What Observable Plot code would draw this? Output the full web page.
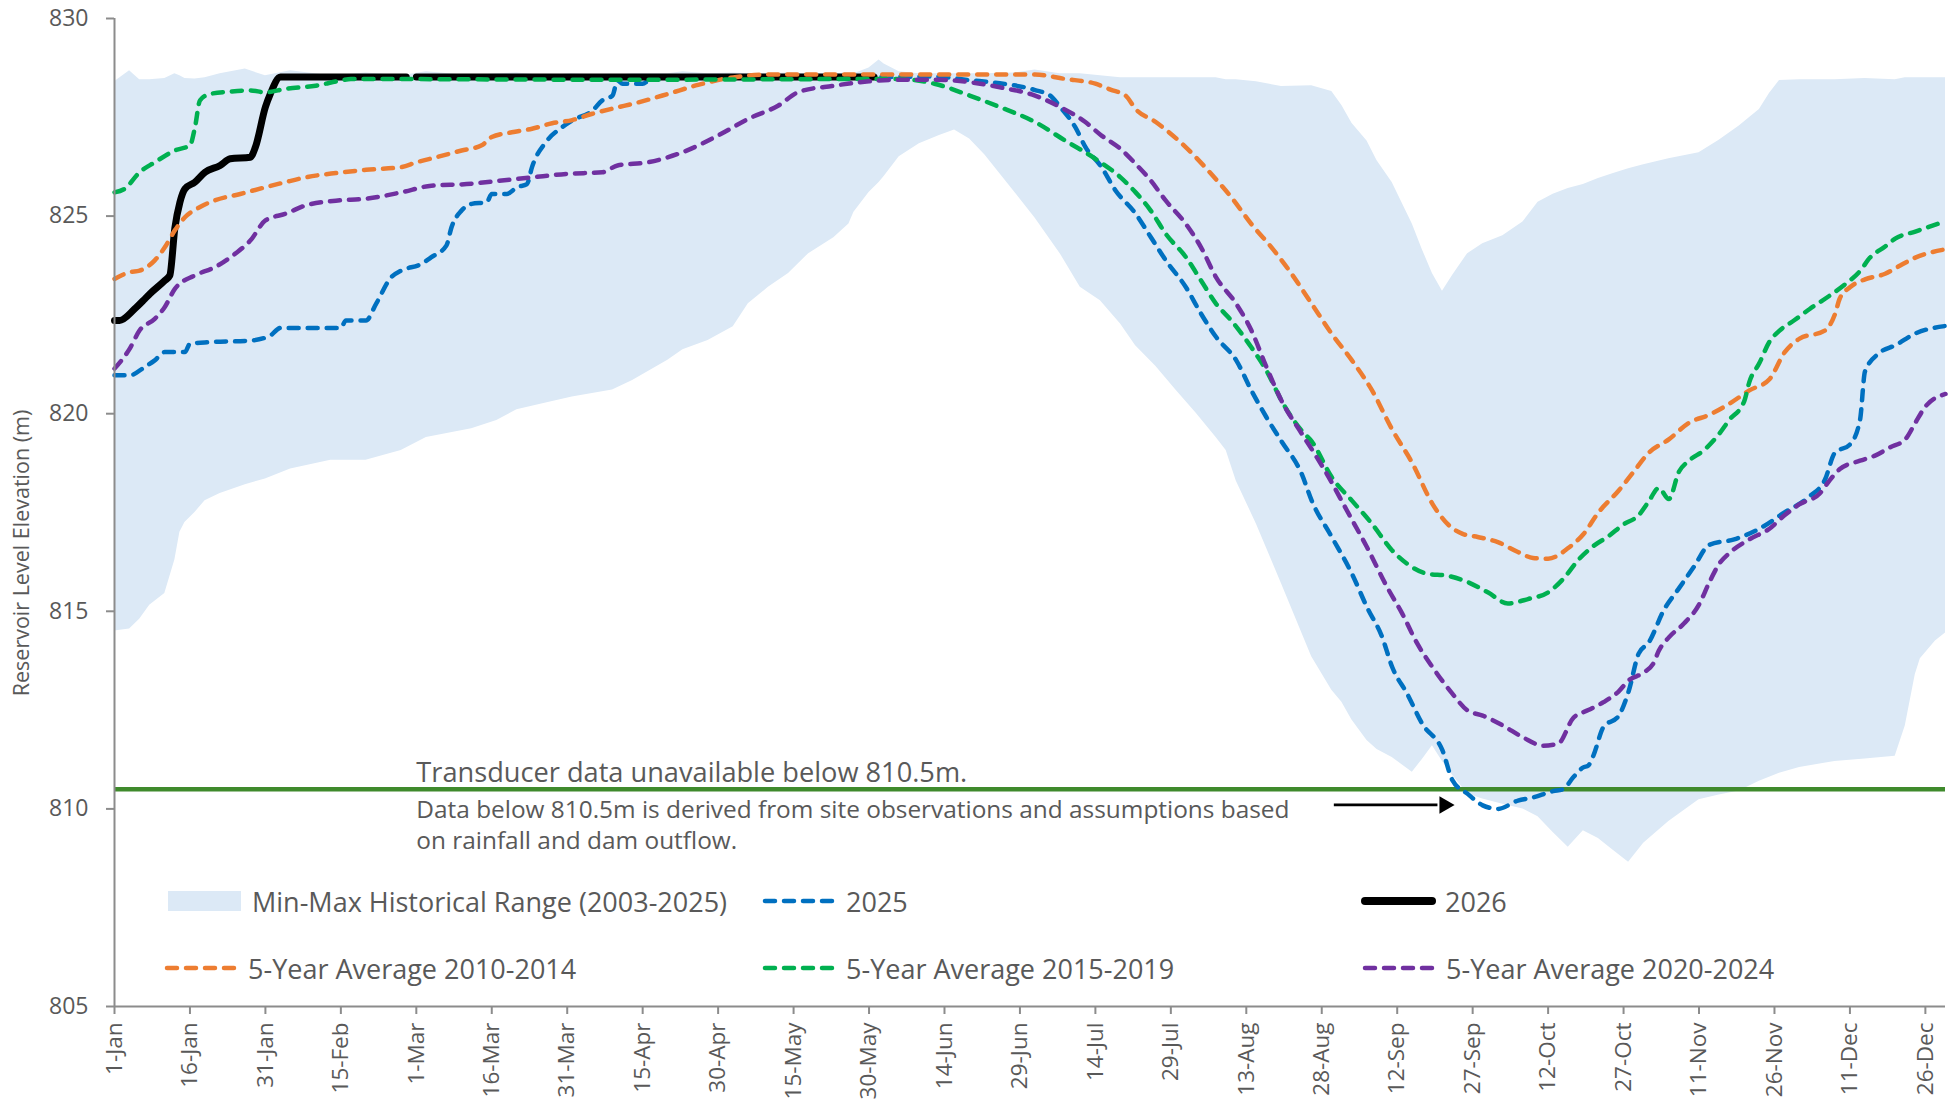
<!DOCTYPE html>
<html>
<head>
<meta charset="utf-8">
<script src="https://cdn.jsdelivr.net/npm/d3@7"></script>
<script src="https://cdn.jsdelivr.net/npm/@observablehq/plot@0.6"></script>
<style>
  html, body { margin: 0; padding: 0; background: #ffffff; }
  #wrap { position: relative; width: 1956px; height: 1106px; font-family: "Open Sans", "Liberation Sans", sans-serif; color: #595959; }
  #ylabel { position: absolute; left: 20px; top: 553px; transform: translate(-50%, -50%) rotate(-90deg); white-space: nowrap; font-size: 21.5px; }
  .leg { position: absolute; display: flex; align-items: center; font-size: 27px; white-space: nowrap; }
  .leg svg { display: block; margin-right: 9px; }
</style>
</head>
<body>
<div id="wrap">
  <div id="chart"></div>
  <div id="ylabel">Reservoir Level Elevation (m)</div>
</div>
<script>
// ---------- tick labels ----------
const tickDays = [0, 15, 30, 45, 60, 75, 90, 105, 120, 135, 150, 165, 180, 195, 210, 225, 240, 255, 270, 285, 300, 315, 330, 345, 360];
const tickLabels = ["1-Jan", "16-Jan", "31-Jan", "15-Feb", "1-Mar", "16-Mar", "31-Mar", "15-Apr", "30-Apr", "15-May", "30-May", "14-Jun", "29-Jun", "14-Jul", "29-Jul", "13-Aug", "28-Aug", "12-Sep", "27-Sep", "12-Oct", "27-Oct", "11-Nov", "26-Nov", "11-Dec", "26-Dec"];
const yTicks = [805, 810, 815, 820, 825, 830];

// ---------- Min-Max historical range (2003-2025) ----------
const bandDays = [0, 3, 5, 7, 10, 12, 13, 14, 16, 18, 21, 26, 30, 35, 43, 50, 57, 62, 71, 76, 80, 86, 91, 99, 103, 110, 113, 118, 123, 126, 130, 134, 138, 143, 146, 147, 150, 152, 153, 156, 160, 164, 167, 170, 173, 179, 183, 188, 192, 196, 200, 203, 207, 211, 215, 219, 221, 223, 227, 232, 238, 242, 244, 246, 249, 251, 254, 258, 260, 262, 264, 266, 269, 272, 276, 280, 283, 286, 289, 292, 295, 298, 301, 304, 309, 315, 319, 323, 327, 329, 331, 335, 342, 348, 354, 356, 358, 359, 362, 364];
const bandMax = [828.4, 828.68, 828.45, 828.45, 828.48, 828.6, 828.55, 828.48, 828.47, 828.5, 828.6, 828.72, 828.55, 828.68, 828.55, 828.62, 828.55, 828.65, 828.55, 828.6, 828.62, 828.55, 828.6, 828.55, 828.6, 828.6, 828.65, 828.6, 828.62, 828.6, 828.6, 828.62, 828.6, 828.6, 828.62, 828.6, 828.75, 828.95, 828.85, 828.65, 828.6, 828.6, 828.6, 828.6, 828.6, 828.62, 828.7, 828.6, 828.6, 828.55, 828.5, 828.5, 828.5, 828.5, 828.5, 828.5, 828.45, 828.45, 828.4, 828.28, 828.3, 828.15, 827.8, 827.35, 826.9, 826.4, 825.85, 824.8, 824.15, 823.55, 823.1, 823.5, 824.05, 824.3, 824.5, 824.85, 825.35, 825.55, 825.7, 825.8, 825.95, 826.08, 826.2, 826.3, 826.45, 826.6, 826.92, 827.28, 827.7, 828.1, 828.43, 828.45, 828.45, 828.48, 828.45, 828.5, 828.5, 828.5, 828.5, 828.5];
const bandMin = [814.5, 814.55, 814.8, 815.15, 815.45, 816.3, 817.0, 817.25, 817.5, 817.8, 817.98, 818.2, 818.35, 818.6, 818.82, 818.82, 819.07, 819.4, 819.62, 819.83, 820.1, 820.28, 820.42, 820.6, 820.84, 821.35, 821.62, 821.85, 822.2, 822.78, 823.2, 823.55, 824.05, 824.45, 824.8, 825.1, 825.6, 825.85, 826.0, 826.5, 826.83, 827.04, 827.18, 826.95, 826.55, 825.6, 824.95, 824.05, 823.2, 822.86, 822.27, 821.72, 821.2, 820.6, 820.02, 819.4, 819.07, 818.3, 817.21, 815.7, 813.85, 813.0, 812.7, 812.25, 811.73, 811.5, 811.3, 810.93, 811.25, 811.6, 811.2, 810.85, 810.38, 810.25, 810.12, 810.0, 809.8, 809.4, 809.03, 809.45, 809.25, 808.95, 808.65, 809.13, 809.68, 810.23, 810.35, 810.45, 810.7, 810.8, 810.9, 811.05, 811.2, 811.26, 811.33, 812.1, 813.4, 813.8, 814.25, 814.45];

// ---------- 2025 ----------
const days2025 = [0, 3, 6, 8, 10, 14, 15, 19, 27, 31, 33, 45, 46, 50, 52, 55, 57, 61, 63, 66, 67, 69, 71, 74, 75, 78, 80, 82, 83, 86, 89, 91, 95, 97, 99, 100, 101, 105, 107, 120, 140, 163, 170, 176, 183, 186, 188, 191, 193, 196, 199, 203, 206, 209, 213, 216, 219, 223, 226, 229, 232, 236, 238, 242, 246, 249, 252, 254, 257, 260, 264, 266, 269, 272, 275, 279, 282, 286, 288, 290, 292, 293, 294, 296, 299, 301, 303, 305, 308, 311, 314, 317, 322, 327, 332, 337, 340, 342, 345, 347, 348, 351, 354, 358, 364];
const level2025 = [820.97, 820.97, 821.18, 821.35, 821.56, 821.56, 821.77, 821.81, 821.85, 821.98, 822.17, 822.17, 822.36, 822.36, 822.78, 823.45, 823.62, 823.79, 823.96, 824.26, 824.72, 825.14, 825.31, 825.35, 825.56, 825.56, 825.73, 825.81, 826.24, 826.91, 827.25, 827.42, 827.67, 827.93, 828.05, 828.43, 828.35, 828.35, 828.5, 828.5, 828.5, 828.53, 828.44, 828.36, 828.19, 828.05, 827.76, 827.25, 826.75, 826.28, 825.65, 825.06, 824.47, 823.88, 823.2, 822.53, 821.94, 821.35, 820.59, 819.91, 819.3, 818.48, 817.8, 816.88, 815.95, 815.1, 814.35, 813.59, 812.91, 812.15, 811.48, 810.72, 810.38, 810.09, 810.0, 810.21, 810.29, 810.45, 810.5, 810.8, 811.05, 811.1, 811.35, 812.07, 812.35, 812.97, 813.93, 814.21, 815.03, 815.58, 816.13, 816.68, 816.82, 817.09, 817.5, 817.91, 818.32, 819.01, 819.22, 819.84, 821.07, 821.55, 821.73, 822.03, 822.22];

// ---------- 2026 ----------
const days2026 = [0, 1, 4, 6, 7, 10, 11, 12, 13, 14, 16, 18, 21, 23, 27, 28, 30, 31, 33, 58, 59, 60, 151];
const level2026 = [822.36, 822.36, 822.65, 822.9, 823.03, 823.37, 823.5, 824.7, 825.35, 825.69, 825.86, 826.11, 826.28, 826.45, 826.49, 826.74, 827.76, 828.1, 828.52, 828.52, null, 828.52, 828.52];

// ---------- 5-Year Average 2010-2014 ----------
const daysAvg1014 = [0, 3, 5, 8, 10, 12, 14, 17, 20, 25, 30, 34, 38, 44, 50, 57, 60, 64, 69, 73, 75, 79, 83, 87, 91, 95, 100, 103, 110, 116, 123, 130, 183, 189, 195, 198, 201, 203, 207, 213, 218, 222, 226, 230, 234, 238, 242, 246, 250, 254, 258, 262, 265, 268, 271, 275, 279, 282, 285, 289, 292, 295, 299, 302, 305, 309, 313, 317, 321, 325, 329, 332, 335, 340, 342, 343, 345, 348, 352, 355, 358, 364];
const levelAvg1014 = [823.41, 823.58, 823.62, 823.88, 824.21, 824.64, 824.97, 825.23, 825.4, 825.56, 825.73, 825.86, 825.98, 826.09, 826.17, 826.24, 826.36, 826.49, 826.66, 826.79, 827.0, 827.12, 827.21, 827.35, 827.43, 827.59, 827.75, 827.84, 828.09, 828.32, 828.51, 828.58, 828.58, 828.47, 828.35, 828.2, 828.05, 827.71, 827.38, 826.74, 826.07, 825.48, 824.8, 824.21, 823.54, 822.78, 822.02, 821.35, 820.59, 819.6, 818.75, 817.72, 817.21, 816.96, 816.88, 816.75, 816.5, 816.35, 816.33, 816.6, 816.95, 817.5, 818.05, 818.53, 819.01, 819.35, 819.77, 819.97, 820.25, 820.59, 820.87, 821.55, 821.9, 822.1, 822.51, 822.92, 823.2, 823.4, 823.54, 823.75, 823.95, 824.16];

// ---------- 5-Year Average 2015-2019 ----------
const daysAvg1519 = [0, 2, 5, 8, 12, 15, 16, 17, 19, 23, 27, 30, 34, 40, 45, 47, 100, 156, 163, 170, 176, 183, 189, 195, 200, 203, 206, 209, 213, 216, 219, 222, 226, 229, 232, 236, 238, 242, 246, 250, 254, 257, 261, 265, 269, 273, 277, 281, 285, 288, 291, 294, 297, 300, 303, 305, 307, 309, 311, 313, 316, 319, 321, 324, 325, 327, 329, 331, 334, 337, 341, 344, 347, 349, 352, 354, 358, 364];
const levelAvg1519 = [825.6, 825.69, 826.11, 826.36, 826.66, 826.79, 827.25, 827.93, 828.09, 828.15, 828.18, 828.13, 828.22, 828.3, 828.43, 828.47, 828.45, 828.47, 828.35, 828.05, 827.76, 827.38, 826.91, 826.45, 825.98, 825.6, 825.14, 824.55, 823.96, 823.37, 822.78, 822.36, 821.68, 821.09, 820.33, 819.57, 819.3, 818.39, 817.8, 817.21, 816.54, 816.2, 815.95, 815.9, 815.74, 815.48, 815.2, 815.31, 815.48, 815.82, 816.3, 816.65, 816.9, 817.2, 817.43, 817.78, 818.12, 817.84, 818.53, 818.81, 819.08, 819.49, 819.84, 820.32, 820.8, 821.28, 821.82, 822.1, 822.37, 822.65, 822.99, 823.27, 823.61, 823.95, 824.23, 824.43, 824.61, 824.87];

// ---------- 5-Year Average 2020-2024 ----------
const daysAvg2024 = [0, 3, 5, 8, 10, 12, 16, 20, 24, 27, 30, 34, 38, 44, 50, 57, 63, 70, 77, 83, 90, 97, 100, 106, 113, 120, 126, 132, 136, 143, 150, 156, 163, 170, 176, 183, 188, 193, 196, 200, 203, 206, 209, 213, 216, 219, 223, 226, 229, 232, 236, 239, 241, 245, 249, 253, 256, 259, 262, 266, 269, 272, 276, 280, 284, 287, 290, 293, 296, 299, 301, 304, 306, 307, 309, 312, 315, 317, 319, 321, 325, 329, 332, 335, 339, 341, 343, 347, 350, 353, 356, 358, 360, 364];
const levelAvg2024 = [821.14, 821.64, 822.11, 822.4, 822.7, 823.16, 823.5, 823.71, 824.05, 824.38, 824.89, 825.06, 825.27, 825.39, 825.44, 825.6, 825.77, 825.81, 825.9, 825.98, 826.07, 826.11, 826.28, 826.36, 826.62, 827.04, 827.46, 827.8, 828.14, 828.3, 828.41, 828.45, 828.45, 828.39, 828.26, 828.05, 827.76, 827.38, 827.06, 826.7, 826.32, 825.9, 825.39, 824.8, 824.21, 823.45, 822.78, 822.11, 821.18, 820.33, 819.5, 818.9, 818.48, 817.55, 816.62, 815.61, 814.94, 814.18, 813.59, 812.91, 812.49, 812.36, 812.11, 811.81, 811.6, 811.65, 812.3, 812.5, 812.7, 812.97, 813.25, 813.45, 813.7, 814.0, 814.34, 814.69, 815.17, 815.72, 816.2, 816.47, 816.82, 817.09, 817.43, 817.71, 817.98, 818.32, 818.6, 818.81, 818.94, 819.15, 819.35, 819.77, 820.18, 820.5];

// ---------- reference line & annotation ----------
const transducerLimit = 810.5;
const noteTitle = "Transducer data unavailable below 810.5m.";
const noteBody = "Data below 810.5m is derived from site observations and assumptions based\non rainfall and dam outflow.";
const noteDay = 60;
const arrowFromDay = 242.4;
const arrowToDay = 263;
const arrowHeadDay = 264.4;
const arrowLevel = 810.1;

// ---------- legend ----------
const legendLabels = ["Min-Max Historical Range (2003-2025)", "2025", "2026", "5-Year Average 2010-2014", "5-Year Average 2015-2019", "5-Year Average 2020-2024"];

// ================= build =================
const toRows = (days, levels) => days.map((d, i) => ({day: d, level: levels[i]}));
const band = bandDays.map((d, i) => ({day: d, min: bandMin[i], max: bandMax[i]}));

const COL = {band: "#DCE9F6", s2025: "#0070C0", s2026: "#000000", a1014: "#ED7D31", a1519: "#00B050", a2024: "#7030A0", limit: "#3F8A2C", axis: "#8C8C8C", text: "#595959"};
const DASH = "10,9";
const dashed = (rows, color) => Plot.line(rows, {x: "day", y: "level", stroke: color, strokeWidth: 4.5, strokeDasharray: DASH, strokeLinecap: "round", curve: "monotone-x"});

const chart = Plot.plot({
  width: 1956,
  height: 1106,
  marginLeft: 114,
  marginRight: 11,
  marginTop: 18,
  marginBottom: 100,
  style: {fontFamily: "'Open Sans', sans-serif", fontSize: "23px", color: COL.text, background: "#ffffff", overflow: "visible"},
  x: {domain: [0, 364]},
  y: {domain: [805, 830]},
  marks: [
    Plot.areaY(band, {x: "day", y1: "min", y2: "max", fill: COL.band, curve: "linear"}),
    Plot.ruleY([transducerLimit], {stroke: COL.limit, strokeWidth: 4.5}),
    dashed(toRows(days2025, level2025), COL.s2025),
    Plot.line(toRows(days2026, level2026), {x: "day", y: "level", stroke: COL.s2026, strokeWidth: 7, strokeLinejoin: "round", curve: "monotone-x"}),
    dashed(toRows(daysAvg1014, levelAvg1014), COL.a1014),
    dashed(toRows(daysAvg1519, levelAvg1519), COL.a1519),
    dashed(toRows(daysAvg2024, levelAvg2024), COL.a2024),
    Plot.ruleX([0], {stroke: COL.axis, strokeWidth: 2}),
    Plot.ruleY([805], {stroke: COL.axis, strokeWidth: 2}),
    Plot.axisY({ticks: yTicks, tickSize: 8, tickPadding: 18, stroke: COL.axis, strokeWidth: 2, label: null, fontSize: 23}),
    Plot.axisX({ticks: tickDays, tickFormat: (d) => tickLabels[tickDays.indexOf(d)], tickRotate: -90, tickSize: 8, tickPadding: 8, stroke: COL.axis, strokeWidth: 2, label: null, fontSize: 22.5}),
    Plot.text([{day: noteDay, level: transducerLimit, t: noteTitle}], {x: "day", y: "level", text: "t", textAnchor: "start", lineAnchor: "bottom", dy: -7, fontSize: 27.2, fill: COL.text}),
    Plot.text([{day: noteDay, level: transducerLimit, t: noteBody}], {x: "day", y: "level", text: "t", textAnchor: "start", lineAnchor: "top", dy: 6, lineHeight: 1.3, fontSize: 24.4, fill: COL.text}),
    Plot.link([{x1: arrowFromDay, x2: arrowToDay, y: arrowLevel}], {x1: "x1", x2: "x2", y1: "y", y2: "y", stroke: "#000000", strokeWidth: 2.7}),
    Plot.dot([{day: arrowHeadDay, level: arrowLevel}], {x: "day", y: "level", symbol: "triangle", rotate: 90, r: 6.5, fill: "#000000", stroke: "none"})
  ]
});
document.getElementById("chart").appendChild(chart);

// ---------- legend (HTML over the plot) ----------
const wrap = document.getElementById("wrap");
const legendPos = [[168, 901], [762, 901], [1361, 901], [164, 968], [762, 968], [1362, 968]];
const legendStyle = [
  {type: "box", color: COL.band},
  {type: "dash", color: COL.s2025},
  {type: "solid", color: COL.s2026},
  {type: "dash", color: COL.a1014},
  {type: "dash", color: COL.a1519},
  {type: "dash", color: COL.a2024}
];
legendLabels.forEach((label, i) => {
  const div = document.createElement("div");
  div.className = "leg";
  div.style.left = legendPos[i][0] + "px";
  div.style.top = (legendPos[i][1] - 20) + "px";
  div.style.height = "40px";
  const s = legendStyle[i];
  let sw;
  if (s.type === "box") sw = `<svg width="75" height="20"><rect x="0" y="0" width="73" height="20" fill="${s.color}"/></svg>`;
  else if (s.type === "dash") sw = `<svg width="75" height="20"><line x1="3" y1="10" x2="72" y2="10" stroke="${s.color}" stroke-width="4.5" stroke-dasharray="${DASH}" stroke-linecap="round"/></svg>`;
  else sw = `<svg width="75" height="20"><line x1="4" y1="10" x2="71" y2="10" stroke="${s.color}" stroke-width="8" stroke-linecap="round"/></svg>`;
  div.innerHTML = sw + `<span>${label}</span>`;
  wrap.appendChild(div);
});
</script>
</body>
</html>
